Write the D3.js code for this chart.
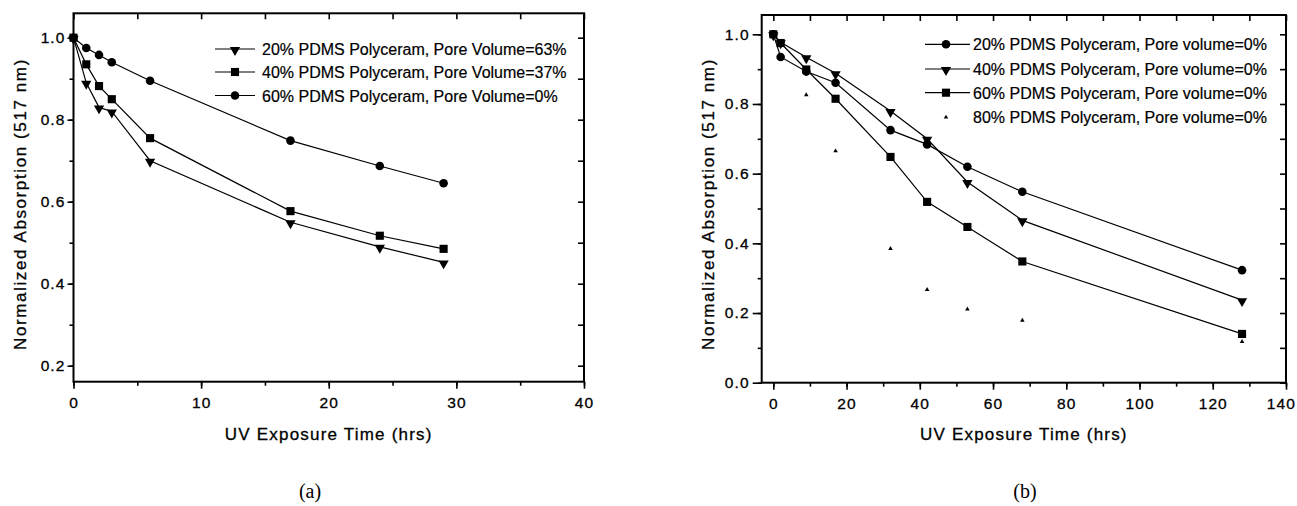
<!DOCTYPE html>
<html><head><meta charset="utf-8">
<script src="https://cdn.jsdelivr.net/npm/d3@7"></script>
<style>
body{margin:0;background:#fff;}
svg text{font-family:"Liberation Sans",Arial,sans-serif;fill:#000;}
</style></head>
<body>
<svg id="chart" width="1297" height="506"></svg>
<script>
// ---- Panel (a) data ----
const aTime = [0, 1, 2, 3, 6, 17, 24, 29];
const a20 = [1.0, 0.89, 0.83, 0.82, 0.70, 0.55, 0.49, 0.452];
const a40 = [1.0, 0.935, 0.882, 0.85, 0.755, 0.577, 0.517, 0.485];
const a60 = [1.0, 0.975, 0.958, 0.94, 0.895, 0.749, 0.687, 0.645];
const aLegend = ["20% PDMS Polyceram, Pore Volume=63%", "40% PDMS Polyceram, Pore Volume=37%", "60% PDMS Polyceram, Pore Volume=0%"];
const aXTicks = [0, 10, 20, 30, 40];
const aYTicks = [0.2, 0.4, 0.6, 0.8, 1.0];

// ---- Panel (b) data ----
const bTime = [0, 2, 9, 17, 32, 42, 53, 68, 128];
const b20 = [1.0, 0.935, 0.893, 0.861, 0.725, 0.684, 0.62, 0.548, 0.323];
const b40 = [1.0, 0.977, 0.934, 0.888, 0.78, 0.70, 0.576, 0.466, 0.237];
const b60 = [1.0, 0.975, 0.899, 0.815, 0.648, 0.519, 0.447, 0.348, 0.14];
const b80Time = [0, 9, 17, 32, 42, 53, 68, 128];
const b80 = [1.0, 0.826, 0.665, 0.385, 0.267, 0.211, 0.179, 0.118];
const bLegend = ["20% PDMS Polyceram, Pore volume=0%", "40% PDMS Polyceram, Pore volume=0%", "60% PDMS Polyceram, Pore volume=0%", "80% PDMS Polyceram, Pore volume=0%"];
const bXTicks = [0, 20, 40, 60, 80, 100, 120, 140];
const bYTicks = [0.0, 0.2, 0.4, 0.6, 0.8, 1.0];

const xTitle = "UV Exposure Time (hrs)";
const yTitle = "Normalized Absorption (517 nm)";
const panelLabels = ["(a)", "(b)"];

const svg = d3.select("#chart");

const markers = {
  tri: d3.symbol().type(d3.symbolTriangle).size(46),
  square: d3.symbol().type(d3.symbolSquare).size(66),
  circle: d3.symbol().type(d3.symbolCircle).size(58),
  small: d3.symbol().type(d3.symbolTriangle).size(9)
};
function markerTransform(kind, x, y) {
  if (kind === "tri") return `translate(${x},${y + 1}) rotate(180)`;
  return `translate(${x},${y})`;
}

function panel(cfg) {
  const x = d3.scaleLinear().domain(cfg.xDom).range([cfg.left, cfg.right]);
  const y = d3.scaleLinear().domain(cfg.yDom).range([cfg.bottom, cfg.top]);
  const g = svg.append("g");

  const minorX = d3.range(Math.max(0, cfg.xDom[0]), cfg.xTicks[cfg.xTicks.length - 1] + 1e-9, cfg.xMinor)
      .filter(v => v >= cfg.xDom[0] && v <= cfg.xDom[1]);
  const minorY = d3.range(0, 1.0001, 0.1).map(v => +v.toFixed(2))
      .filter(v => v >= cfg.yDom[0] && v <= cfg.yDom[1]);

  // bottom
  g.append("g").attr("transform", `translate(0,${cfg.bottom})`)
    .call(d3.axisBottom(x).tickValues(minorX).tickSize(4).tickFormat(""));
  g.append("g").attr("class", "lab").attr("transform", `translate(0,${cfg.bottom})`)
    .call(d3.axisBottom(x).tickValues(cfg.xTicks).tickSize(7).tickPadding(8).tickFormat(d3.format("d")));
  // top (inward)
  g.append("g").attr("transform", `translate(0,${cfg.top})`)
    .call(d3.axisTop(x).tickValues(minorX).tickSize(-6).tickFormat(""));
  // left
  g.append("g").attr("transform", `translate(${cfg.left},0)`)
    .call(d3.axisLeft(y).tickValues(minorY).tickSize(4).tickFormat(""));
  g.append("g").attr("class", "lab").attr("transform", `translate(${cfg.left},0)`)
    .call(d3.axisLeft(y).tickValues(cfg.yTicks).tickSize(cfg.yTickLen).tickPadding(cfg.yPad).tickFormat(d3.format(".1f")));
  // right (inward)
  g.append("g").attr("transform", `translate(${cfg.right},0)`)
    .call(d3.axisRight(y).tickValues(minorY).tickSize(-6).tickFormat(""));

  g.selectAll(".domain").remove();
  g.selectAll(".tick line").attr("stroke", "#000").attr("stroke-width", 1.6);
  g.selectAll(".tick text").attr("font-size", 15.5).attr("letter-spacing", "1.1px")
    .attr("stroke", "#000").attr("stroke-width", 0.3)
    .style("font-family", "'Liberation Sans', Arial, sans-serif").attr("fill", "#000");

  // keep labels inside the page
  g.selectAll(".lab .tick text").each(function () {
    const bb = this.getBBox();
    const ctm = this.getCTM();
    const right = ctm.e + bb.x + bb.width;
    if (right > 1296) d3.select(this).attr("x", 1296 - right);
  });

  // frame
  g.append("rect").attr("x", cfg.left).attr("y", cfg.top)
    .attr("width", cfg.right - cfg.left).attr("height", cfg.bottom - cfg.top)
    .attr("fill", "none").attr("stroke", "#000").attr("stroke-width", 2);

  // series
  const line = d3.line().x(d => x(d[0])).y(d => y(d[1]));
  cfg.series.forEach(s => {
    const pts = s.t.map((t, i) => [t, s.v[i]]);
    if (s.line) {
      g.append("path").datum(pts).attr("d", line)
        .attr("fill", "none").attr("stroke", "#000").attr("stroke-width", 1.2);
    }
    g.selectAll(null).data(pts).enter().append("path")
      .attr("d", markers[s.m]())
      .attr("transform", d => markerTransform(s.m, x(d[0]), y(d[1])))
      .attr("fill", "#000");
  });

  // legend
  cfg.series.forEach((s, i) => {
    const ly0 = cfg.legY[i];
    if (s.line) {
      g.append("line").attr("x1", cfg.legX[0]).attr("x2", cfg.legX[2])
        .attr("y1", ly0).attr("y2", ly0).attr("stroke", "#000").attr("stroke-width", 1.2);
    }
    g.append("path").attr("d", markers[s.m]())
      .attr("transform", markerTransform(s.m, cfg.legX[1], ly0)).attr("fill", "#000");
    g.append("text").attr("x", cfg.legX[3]).attr("y", ly0 + 6)
      .attr("font-size", 16).attr("stroke", "#000").attr("stroke-width", 0.2).text(s.label);
  });

  // axis titles
  g.append("text").attr("x", (cfg.left + cfg.right) / 2).attr("y", cfg.xTitleY)
    .attr("text-anchor", "middle").attr("font-size", 17).attr("letter-spacing", "1.2px")
    .attr("stroke", "#000").attr("stroke-width", 0.3).text(xTitle);
  g.append("text").attr("transform", `translate(${cfg.yTitleX},${cfg.yTitleC}) rotate(-90)`)
    .attr("text-anchor", "middle").attr("font-size", 17).attr("letter-spacing", "1.6px")
    .attr("stroke", "#000").attr("stroke-width", 0.3).text(yTitle);
  g.append("text").attr("x", cfg.labelX).attr("y", cfg.labelY)
    .attr("text-anchor", "middle").attr("font-size", 20)
    .style("font-family", "'Liberation Serif', 'Times New Roman', serif").text(cfg.label);
}

panel({
  left: 73.5, right: 584, top: 13.3, bottom: 381.7,
  xDom: [0, 40], yDom: [0.161, 1.0595],
  xTicks: aXTicks, yTicks: aYTicks, xMinor: 5,
  yTickLen: 6, yPad: 2,
  series: [
    {t: aTime, v: a20, m: "tri", line: true, label: aLegend[0]},
    {t: aTime, v: a40, m: "square", line: true, label: aLegend[1]},
    {t: aTime, v: a60, m: "circle", line: true, label: aLegend[2]}
  ],
  legY: [49, 72, 95.5], legX: [215, 235, 255, 262],
  xTitleY: 440, yTitleX: 26, yTitleC: 204,
  label: panelLabels[0], labelX: 310, labelY: 498
});

panel({
  left: 761.7, right: 1286, top: 15, bottom: 382.7,
  xDom: [-3.17, 140], yDom: [0, 1.0554],
  xTicks: bXTicks, yTicks: bYTicks, xMinor: 10,
  yTickLen: 9, yPad: 3,
  series: [
    {t: bTime, v: b20, m: "circle", line: true, label: bLegend[0]},
    {t: bTime, v: b40, m: "tri", line: true, label: bLegend[1]},
    {t: bTime, v: b60, m: "square", line: true, label: bLegend[2]},
    {t: b80Time, v: b80, m: "small", line: false, label: bLegend[3]}
  ],
  legY: [44.3, 69, 92.7, 117.3], legX: [925, 946, 970, 973],
  xTitleY: 440, yTitleX: 714, yTitleC: 204,
  label: panelLabels[1], labelX: 1025, labelY: 498
});
</script>
</body></html>
